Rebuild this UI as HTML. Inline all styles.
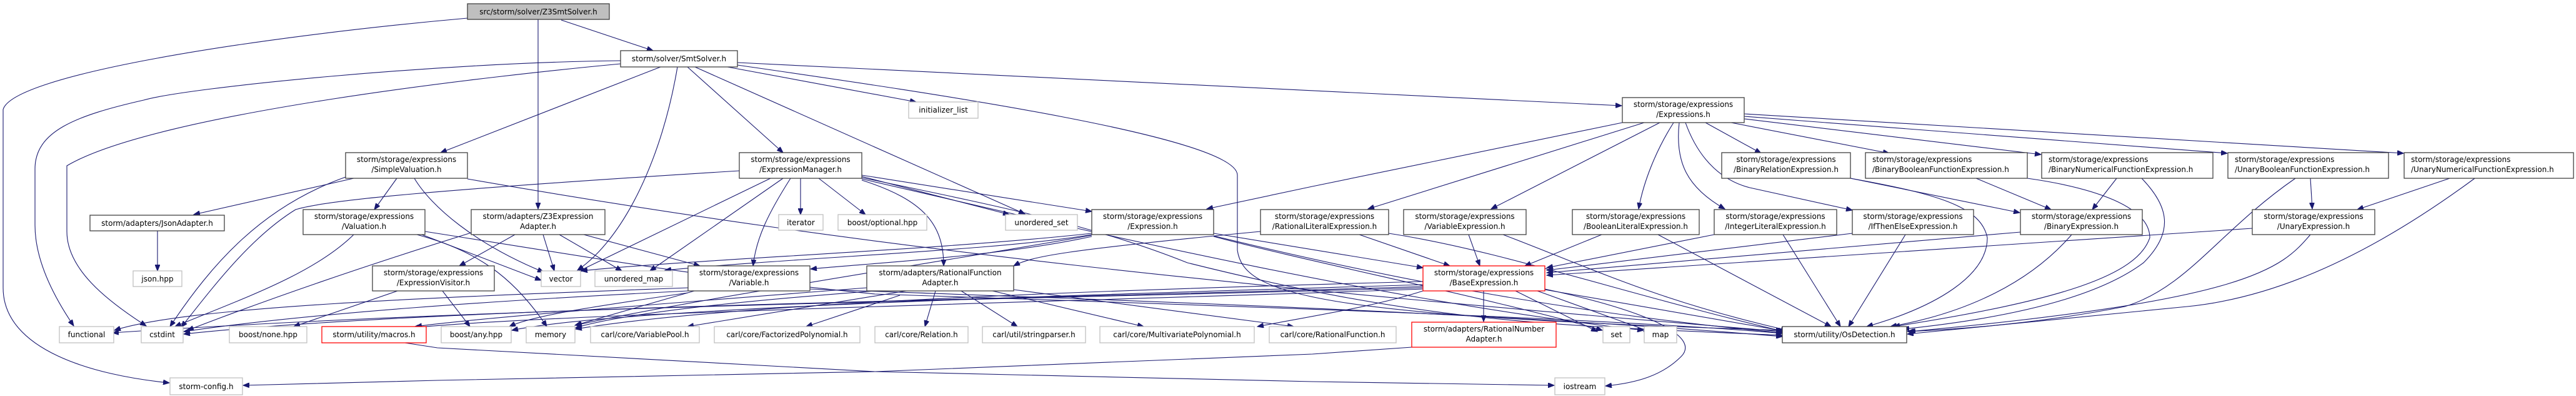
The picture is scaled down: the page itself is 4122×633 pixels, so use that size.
<!DOCTYPE html>
<html><head><meta charset="utf-8"><style>
html,body{margin:0;padding:0;background:#fff;}
svg{display:block;}
text{font-family:"DejaVu Sans","Liberation Sans",sans-serif;font-size:12px;fill:#000;}
.e{fill:none;stroke:#191970;stroke-width:1.1;}
.n{fill:#fff;stroke:#404040;stroke-width:1.3;}
.g{fill:#fff;stroke:#bfbfbf;stroke-width:1.3;}
.r{fill:#fff;stroke:#ff0000;stroke-width:1.3;}
.r2{fill:#fff;stroke:#ff0000;stroke-width:1.3;}
</style></head><body>
<svg width="4122" height="633" viewBox="0 0 4122 633" xmlns="http://www.w3.org/2000/svg">
<defs><marker id="a" markerUnits="userSpaceOnUse" markerWidth="11" markerHeight="8" refX="10" refY="4" orient="auto"><path d="M0,0 L10,4 L0,8 z" fill="#191970" stroke="#191970"/></marker></defs>
<g class="e" marker-end="url(#a)">
<!-- Z3 -->
<path d="M898,32 L1045,81"/>
<path d="M861,31 L861,334"/>
<path d="M748,29 C400,60 20,120 5,175 L5,460 C5,560 150,600 271,612"/>
<!-- SmtSolver -->
<path d="M993,97 C700,100 300,140 230,160 C120,185 56,210 56,270 L56,360 C56,420 90,480 118,521"/>
<path d="M993,102 C800,120 250,180 107,265 L107,370 C107,430 170,480 234,521"/>
<path d="M1057,107 L705,244"/>
<path d="M1084,107 C1060,250 1000,380 924,432"/>
<path d="M1100,107 L1253,244"/>
<path d="M1112,107 L1640,342"/>
<path d="M1180,100 L2595,169"/>
<path d="M1164,107 L1466,163"/>
<path d="M1180,104 C1500,150 1980,220 1980,280 L1980,400 C1990,470 2100,505 2852,528"/>
<!-- macros->iostream, RNA->storm-config -->
<path d="M648,548 L700,556 L1400,594 L2100,610 L2487,616"/>
<path d="M2259,555 L2100,566 L1400,594 L700,608 L389,616"/>
<!-- Expressions.h -->
<path d="M2596,196 L2100,298 L1931,334"/>
<path d="M2631,196 L2189,334"/>
<path d="M2656,196 L2386,334"/>
<path d="M2678,196 C2650,240 2630,290 2622,334"/>
<path d="M2687,196 C2680,260 2700,300 2760,334"/>
<path d="M2697,196 C2720,260 2760,290 2800,300 L2964,336"/>
<path d="M2729,196 L2818,245"/>
<path d="M2770,196 L3023,245"/>
<path d="M2791,190 L3266,247"/>
<path d="M2791,186 L3564,245"/>
<path d="M2791,182 L3846,245"/>
<!-- Expression.h -->
<path d="M1942,373 L2277,428"/>
<path d="M1747,375 C1600,400 1300,410 1064,432"/>
<path d="M1747,373 C1500,400 1100,415 930,433"/>
<path d="M1747,378 C1600,410 1400,420 1297,430"/>
<path d="M1942,378 C2100,420 2400,480 2564,528"/>
<path d="M1942,377 C2200,440 2500,500 2852,532"/>
<path d="M1747,376 C1500,420 1100,480 921,520"/>
<!-- SimpleValuation -->
<path d="M566,285 L310,343"/>
<path d="M553,283 C420,330 340,420 272,522"/>
<path d="M635,285 L599,335"/>
<path d="M663,285 C690,330 760,390 870,435"/>
<path d="M748,286 C1400,400 2000,460 2852,530"/>
<!-- JsonAdapter -->
<path d="M252,368 L252,433"/>
<!-- Valuation -->
<path d="M566,375 C500,440 380,480 280,522"/>
<path d="M667,372 L866,448"/>
<path d="M667,375 C760,400 820,440 875,522"/>
<path d="M680,370 C1000,420 1100,440 1400,470 C2000,490 2600,510 2852,533"/>
<!-- Z3ExpressionAdapter -->
<path d="M824,375 L735,425"/>
<path d="M869,375 L887,433"/>
<path d="M895,375 L995,433"/>
<path d="M934,375 L1120,425"/>
<path d="M754,372 C600,420 450,470 300,528"/>
<!-- ExpressionManager -->
<path d="M1281,285 L1281,343"/>
<path d="M1310,285 L1385,343"/>
<path d="M1379,282 L1615,343"/>
<path d="M1379,280 L1747,338"/>
<path d="M1233,285 L925,434"/>
<path d="M1253,285 L1040,433"/>
<path d="M1265,285 C1230,340 1210,380 1205,425"/>
<path d="M1379,288 C1480,320 1510,360 1510,425"/>
<path d="M1183,273 C700,303 520,320 473,335 C400,380 340,460 290,523"/>
<path d="M1379,284 C1600,330 1750,360 1900,420 C2300,520 2500,520 2852,536"/>
<path d="M1379,286 C1700,360 2200,480 2630,528"/>
<!-- ExpressionVisitor -->
<path d="M708,465 L752,522"/>
<path d="M636,465 L470,522"/>
<!-- Variable.h -->
<path d="M1101,465 C800,480 500,500 294,530"/>
<path d="M1111,465 L920,520"/>
<path d="M1101,460 C700,475 300,490 183,528"/>
<path d="M1296,462 C1800,480 2400,500 2852,538"/>
<path d="M1101,468 C950,490 850,505 815,522"/>
<!-- RationalFunctionAdapter -->
<path d="M1497,465 L1480,522"/>
<path d="M1538,465 L1628,522"/>
<path d="M1588,465 L1830,522"/>
<path d="M1622,463 L2070,522"/>
<path d="M1450,465 L1100,522"/>
<path d="M1440,472 L1290,522"/>
<path d="M1387,460 C1000,490 750,510 665,522"/>
<path d="M1400,465 C1200,480 1000,500 921,524"/>
<!-- BaseExpression -->
<path d="M2374,465 L2374,514"/>
<path d="M2425,465 L2556,530"/>
<path d="M2460,465 L2640,530"/>
<path d="M2472,463 L2860,530"/>
<path d="M2472,462 C2650,500 2720,540 2690,570 C2660,600 2620,612 2569,617"/>
<path d="M2277,450 C1900,460 1200,480 921,526"/>
<path d="M2277,455 C1800,470 1000,490 819,528"/>
<path d="M2277,458 C1600,480 700,490 294,534"/>
<path d="M2277,460 C1600,480 800,490 180,532"/>
<path d="M2277,462 C1800,480 900,500 660,524"/>
<path d="M2277,465 C2200,490 2100,505 2012,522"/>
<!-- RationalLiteral / others -->
<path d="M2175,375 L2320,425"/>
<path d="M2222,373 C2400,400 2600,470 2855,530"/>
<path d="M2017,370 C1700,400 1650,410 1622,425"/>
<path d="M2350,375 L2368,425"/>
<path d="M2405,375 C2550,430 2650,480 2860,528"/>
<path d="M2563,375 L2440,425"/>
<path d="M2653,375 L2930,522"/>
<path d="M2743,375 L2475,428"/>
<path d="M2853,375 L2945,522"/>
<path d="M2964,373 L2475,432"/>
<path d="M3049,375 L2958,522"/>
<path d="M3233,371 L2475,436"/>
<path d="M3315,375 C3250,450 3150,500 3025,522"/>
<path d="M3604,365 L2475,440"/>
<path d="M3697,375 C3650,430 3600,480 3055,530"/>
<path d="M2961,285 L3232,340"/>
<path d="M2961,285 C3100,310 3170,330 3180,380 C3180,440 3100,490 2987,522"/>
<path d="M3162,285 L3282,335"/>
<path d="M3244,285 C3350,300 3440,330 3440,380 C3420,440 3300,480 3030,522"/>
<path d="M3387,285 L3348,335"/>
<path d="M3427,285 C3470,330 3480,370 3430,420 C3350,480 3200,510 3045,526"/>
<path d="M3673,285 C3550,370 3500,460 3400,490 C3250,520 3100,528 3052,530"/>
<path d="M3697,285 L3700,334"/>
<path d="M3920,285 L3772,335"/>
<path d="M3960,285 C3750,440 3600,480 3500,490 C3300,510 3100,530 3052,534"/>
</g>
<!-- Nodes -->
<rect x="748" y="6" width="227" height="25" fill="#bfbfbf" stroke="#404040" stroke-width="1.3"/>
<text x="861.5" y="23" text-anchor="middle">src/storm/solver/Z3SmtSolver.h</text>
<rect class="n" x="993" y="81" width="187" height="26"/><text x="1086.5" y="98" text-anchor="middle">storm/solver/SmtSolver.h</text>
<rect class="g" x="1454" y="163" width="111" height="26"/><text x="1509.5" y="180" text-anchor="middle">initializer_list</text>
<rect class="n" x="2596" y="156" width="195" height="40"/><text x="2693.5" y="171" text-anchor="middle">storm/storage/expressions</text><text x="2693.5" y="187" text-anchor="middle">/Expressions.h</text>

<rect class="n" x="553" y="244" width="195" height="41"/><text x="650.5" y="259" text-anchor="middle">storm/storage/expressions</text><text x="650.5" y="275" text-anchor="middle">/SimpleValuation.h</text>
<rect class="n" x="1183" y="244" width="196" height="41"/><text x="1281" y="259" text-anchor="middle">storm/storage/expressions</text><text x="1281" y="275" text-anchor="middle">/ExpressionManager.h</text>
<rect class="n" x="2755" y="244" width="206" height="41"/><text x="2858" y="259" text-anchor="middle">storm/storage/expressions</text><text x="2858" y="275" text-anchor="middle">/BinaryRelationExpression.h</text>
<rect class="n" x="2985" y="244" width="259" height="41"/><text x="2996" y="259">storm/storage/expressions</text><text x="2996" y="275">/BinaryBooleanFunctionExpression.h</text>
<rect class="n" x="3267" y="244" width="274" height="41"/><text x="3278" y="259">storm/storage/expressions</text><text x="3278" y="275">/BinaryNumericalFunctionExpression.h</text>
<rect class="n" x="3565" y="244" width="257" height="41"/><text x="3576" y="259">storm/storage/expressions</text><text x="3576" y="275">/UnaryBooleanFunctionExpression.h</text>
<rect class="n" x="3847" y="244" width="271" height="41"/><text x="3858" y="259">storm/storage/expressions</text><text x="3858" y="275">/UnaryNumericalFunctionExpression.h</text>

<rect class="n" x="144" y="344" width="215" height="25"/><text x="251.5" y="361" text-anchor="middle">storm/adapters/JsonAdapter.h</text>
<rect class="n" x="485" y="335" width="195" height="40"/><text x="582.5" y="350" text-anchor="middle">storm/storage/expressions</text><text x="582.5" y="366" text-anchor="middle">/Valuation.h</text>
<rect class="n" x="754" y="335" width="214" height="40"/><text x="861" y="350" text-anchor="middle">storm/adapters/Z3Expression</text><text x="861" y="366" text-anchor="middle">Adapter.h</text>
<rect class="g" x="1246" y="343" width="71" height="25"/><text x="1281.5" y="360" text-anchor="middle">iterator</text>
<rect class="g" x="1341" y="343" width="142" height="25"/><text x="1412" y="360" text-anchor="middle">boost/optional.hpp</text>
<rect class="g" x="1609" y="343" width="115" height="25"/><text x="1666.5" y="360" text-anchor="middle">unordered_set</text>
<rect class="n" x="1747" y="335" width="195" height="40"/><text x="1844.5" y="350" text-anchor="middle">storm/storage/expressions</text><text x="1844.5" y="366" text-anchor="middle">/Expression.h</text>
<rect class="n" x="2017" y="335" width="205" height="40"/><text x="2119.5" y="350" text-anchor="middle">storm/storage/expressions</text><text x="2119.5" y="366" text-anchor="middle">/RationalLiteralExpression.h</text>
<rect class="n" x="2246" y="335" width="196" height="40"/><text x="2344" y="350" text-anchor="middle">storm/storage/expressions</text><text x="2344" y="366" text-anchor="middle">/VariableExpression.h</text>
<rect class="n" x="2516" y="335" width="203" height="40"/><text x="2617.5" y="350" text-anchor="middle">storm/storage/expressions</text><text x="2617.5" y="366" text-anchor="middle">/BooleanLiteralExpression.h</text>
<rect class="n" x="2743" y="335" width="196" height="40"/><text x="2841" y="350" text-anchor="middle">storm/storage/expressions</text><text x="2841" y="366" text-anchor="middle">/IntegerLiteralExpression.h</text>
<rect class="n" x="2964" y="335" width="194" height="40"/><text x="3061" y="350" text-anchor="middle">storm/storage/expressions</text><text x="3061" y="366" text-anchor="middle">/IfThenElseExpression.h</text>
<rect class="n" x="3233" y="335" width="195" height="40"/><text x="3330.5" y="350" text-anchor="middle">storm/storage/expressions</text><text x="3330.5" y="366" text-anchor="middle">/BinaryExpression.h</text>
<rect class="n" x="3604" y="335" width="196" height="40"/><text x="3702" y="350" text-anchor="middle">storm/storage/expressions</text><text x="3702" y="366" text-anchor="middle">/UnaryExpression.h</text>

<rect class="g" x="213" y="433" width="78" height="25"/><text x="252" y="450" text-anchor="middle">json.hpp</text>
<rect class="n" x="596" y="425" width="195" height="40"/><text x="693.5" y="440" text-anchor="middle">storm/storage/expressions</text><text x="693.5" y="456" text-anchor="middle">/ExpressionVisitor.h</text>
<rect class="g" x="866" y="433" width="63" height="25"/><text x="897.5" y="450" text-anchor="middle">vector</text>
<rect class="g" x="952" y="433" width="124" height="25"/><text x="1014" y="450" text-anchor="middle">unordered_map</text>
<rect class="n" x="1101" y="425" width="195" height="40"/><text x="1198.5" y="440" text-anchor="middle">storm/storage/expressions</text><text x="1198.5" y="456" text-anchor="middle">/Variable.h</text>
<rect class="n" x="1387" y="425" width="235" height="40"/><text x="1504.5" y="440" text-anchor="middle">storm/adapters/RationalFunction</text><text x="1504.5" y="456" text-anchor="middle">Adapter.h</text>
<rect class="r" x="2277" y="425" width="195" height="40"/><text x="2374.5" y="440" text-anchor="middle">storm/storage/expressions</text><text x="2374.5" y="456" text-anchor="middle">/BaseExpression.h</text>

<rect class="g" x="95" y="522" width="87" height="26"/><text x="138.5" y="539" text-anchor="middle">functional</text>
<rect class="g" x="226" y="522" width="67" height="26"/><text x="259.5" y="539" text-anchor="middle">cstdint</text>
<rect class="g" x="367" y="522" width="124" height="26"/><text x="429" y="539" text-anchor="middle">boost/none.hpp</text>
<rect class="r" x="515" y="522" width="167" height="26"/><text x="598.5" y="539" text-anchor="middle">storm/utility/macros.h</text>
<rect class="g" x="706" y="522" width="112" height="26"/><text x="762" y="539" text-anchor="middle">boost/any.hpp</text>
<rect class="g" x="842" y="522" width="78" height="26"/><text x="881" y="539" text-anchor="middle">memory</text>
<rect class="g" x="945" y="522" width="174" height="26"/><text x="1032" y="539" text-anchor="middle">carl/core/VariablePool.h</text>
<rect class="g" x="1143" y="522" width="233" height="26"/><text x="1259.5" y="539" text-anchor="middle">carl/core/FactorizedPolynomial.h</text>
<rect class="g" x="1400" y="522" width="149" height="26"/><text x="1474.5" y="539" text-anchor="middle">carl/core/Relation.h</text>
<rect class="g" x="1572" y="522" width="165" height="26"/><text x="1654.5" y="539" text-anchor="middle">carl/util/stringparser.h</text>
<rect class="g" x="1760" y="522" width="247" height="26"/><text x="1883.5" y="539" text-anchor="middle">carl/core/MultivariatePolynomial.h</text>
<rect class="g" x="2031" y="522" width="203" height="26"/><text x="2132.5" y="539" text-anchor="middle">carl/core/RationalFunction.h</text>
<rect class="r" x="2259" y="515" width="231" height="40"/><text x="2374.5" y="530" text-anchor="middle">storm/adapters/RationalNumber</text><text x="2374.5" y="546" text-anchor="middle">Adapter.h</text>
<rect class="g" x="2565" y="522" width="43" height="26"/><text x="2586.5" y="539" text-anchor="middle">set</text>
<rect class="g" x="2631" y="522" width="52" height="26"/><text x="2657" y="539" text-anchor="middle">map</text>
<rect class="n" x="2852" y="522" width="199" height="26"/><text x="2951.5" y="539" text-anchor="middle">storm/utility/OsDetection.h</text>
<rect class="g" x="272" y="604" width="116" height="27"/><text x="330" y="622" text-anchor="middle">storm-config.h</text>
<rect class="g" x="2488" y="604" width="80" height="27"/><text x="2528" y="622" text-anchor="middle">iostream</text>
</svg>
</body></html>
